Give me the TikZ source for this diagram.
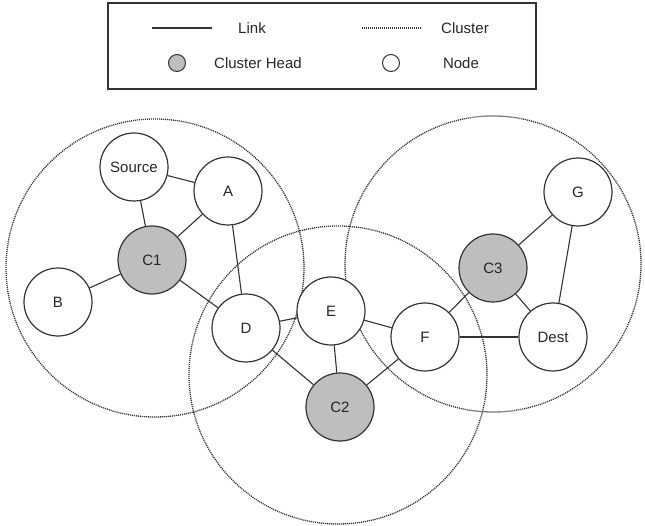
\documentclass[tikz,border=0pt]{standalone}
\usepackage{fontspec}
\setmainfont{Liberation Sans}
\definecolor{headgray}{HTML}{BEBEBE}
\definecolor{ink}{HTML}{333333}
\begin{document}
\begin{tikzpicture}[x=1pt,y=-1pt,
  nd/.style={circle,draw=ink,line width=1.2pt,fill=white,minimum size=68pt,inner sep=0pt,font=\fontsize{15}{17}\selectfont,text=black!85},
  hd/.style={nd,fill=headgray},
  lnk/.style={draw=ink,line width=1.1pt},
  clu/.style={draw=ink,line width=1.3pt,dash pattern=on 1.1pt off 0.9pt},
  lg/.style={font=\fontsize{15}{17}\selectfont,text=black!85,inner sep=0pt}]
\useasboundingbox (0,0) rectangle (645,526);
% clusters
\draw[clu] (155,268) circle[radius=149];
\draw[clu] (338,375) circle[radius=149];
\draw[clu] (493,264) circle[radius=148];
% legend
\node[draw=ink,line width=1.2pt,minimum width=428pt,minimum height=86pt,inner sep=0pt] (legend) at (322,46) {};
\coordinate (l1a) at (152,28);
\coordinate (l1b) at (212,28);
\draw[lnk] (l1a) -- (l1b);
\node[lg] (tlink) at (252,28) {Link};
\coordinate (l2a) at (362,28);
\coordinate (l2b) at (422,28);
\draw[clu] (l2a) -- (l2b);
\node[lg] (tclu) at (465,28) {Cluster};
\node[circle,draw=ink,line width=1pt,fill=headgray,minimum size=17pt,inner sep=0pt] (lhead) at (177,63) {};
\node[lg] (thead) at (258,63) {Cluster Head};
\node[circle,draw=ink,line width=1pt,fill=white,minimum size=17pt,inner sep=0pt] (lnode) at (391,63) {};
\node[lg] (tnode) at (461,63) {Node};
% nodes
\node[nd] (S) at (134,167) {Source};
\node[nd] (A) at (228,191) {A};
\node[hd] (C1) at (152,260) {C1};
\node[nd] (B) at (58,302) {B};
\node[nd] (D) at (246,328) {D};
\node[nd] (E) at (331,311) {E};
\node[nd] (F) at (425,337) {F};
\node[hd] (C2) at (340,407) {C2};
\node[hd] (C3) at (493,268) {C3};
\node[nd] (G) at (578,192) {G};
\node[nd] (Dest) at (553,337) {Dest};
% links
\path[lnk] (S) -- (A);
\path[lnk] (S) -- (C1);
\path[lnk] (A) -- (C1);
\path[lnk] (A) -- (D);
\path[lnk] (C1) -- (B);
\path[lnk] (C1) -- (D);
\path[lnk] (D) -- (E);
\path[lnk] (D) -- (C2);
\path[lnk] (E) -- (C2);
\path[lnk] (E) -- (F);
\path[lnk] (F) -- (C2);
\path[lnk] (F) -- (C3);
\path[lnk] (F) -- (Dest);
\path[lnk] (C3) -- (G);
\path[lnk] (C3) -- (Dest);
\path[lnk] (G) -- (Dest);
\end{tikzpicture}
\end{document}
